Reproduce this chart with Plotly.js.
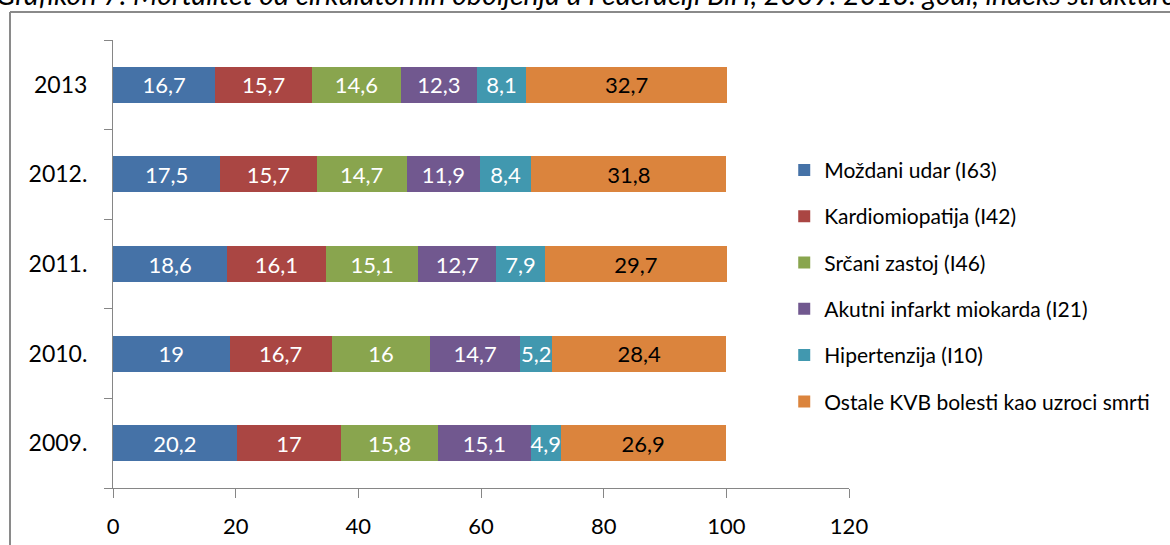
<!DOCTYPE html>
<html>
<head>
<meta charset="utf-8">
<script src="https://cdn.plot.ly/plotly-3.0.1.min.js"></script>
<style>
html,body{margin:0;padding:0;background:#fff;}
#chart{width:1170px;height:545px;}
</style>
</head>
<body>
<div id="chart"></div>
<script>
const years = ['2009.', '2010.', '2011.', '2012.', '2013'];
const seriesNames = [
  'Moždani udar (I63)',
  'Kardiomiopatija (I42)',
  'Srčani zastoj (I46)',
  'Akutni infarkt miokarda (I21)',
  'Hipertenzija (I10)',
  'Ostale KVB bolesti kao uzroci smrti'
];
const mozdaniUdar   = [20.2, 19, 18.6, 17.5, 16.7];
const kardiomiopatija = [17, 16.7, 16.1, 15.7, 15.7];
const srcaniZastoj  = [15.8, 16, 15.1, 14.7, 14.6];
const akutniInfarkt = [15.1, 14.7, 12.7, 11.9, 12.3];
const hipertenzija  = [4.9, 5.2, 7.9, 8.4, 8.1];
const ostale        = [26.9, 28.4, 29.7, 31.8, 32.7];
const xTicks = [0, 20, 40, 60, 80, 100, 120];
const titleText = 'Grafikon 7. Mortalitet od cirkulatornih oboljenja u Federaciji BiH, 2009. 2013. godi, indeks strukture';

const seriesValues = [mozdaniUdar, kardiomiopatija, srcaniZastoj, akutniInfarkt, hipertenzija, ostale];
const colors = ['#4572A7', '#AA4643', '#89A54E', '#71588F', '#4198AF', '#DB843D'];
const labelColors = ['#ffffff', '#ffffff', '#ffffff', '#ffffff', '#ffffff', '#000000'];
const FONT = 'Lato, "Open Sans", sans-serif';

const traces = seriesValues.map((vals, i) => ({
  type: 'bar',
  orientation: 'h',
  name: seriesNames[i],
  y: years,
  x: vals,
  text: vals.map(v => String(v).replace('.', ',')),
  textposition: 'inside',
  insidetextanchor: 'middle',
  textangle: 0,
  constraintext: 'none',
  textfont: {family: FONT, size: 22, color: labelColors[i]},
  marker: {color: colors[i], line: {width: 0}},
  legendgroup: 'g' + i,
  hoverinfo: 'none'
}));

const axisColor = '#868686';
const layout = {
  width: 1170,
  height: 545,
  margin: {l: 113, r: 321, t: 40, b: 57, pad: 0},
  paper_bgcolor: '#ffffff',
  plot_bgcolor: '#ffffff',
  font: {family: FONT, color: '#000000'},
  barmode: 'stack',
  bargap: 0.6,
  showlegend: true,
  legend: {
    x: 0.912, y: 0.755, xanchor: 'left', yanchor: 'top',
    traceorder: 'grouped',
    tracegroupgap: 16,
    itemwidth: 30,
    font: {family: FONT, size: 21, color: '#000000'},
    bgcolor: 'rgba(0,0,0,0)'
  },
  xaxis: {
    range: [0, 120],
    tickvals: xTicks,
    ticktext: xTicks.map(String),
    showgrid: false,
    zeroline: false,
    showline: true,
    linecolor: axisColor,
    linewidth: 1,
    ticks: 'outside',
    ticklen: 9,
    tickcolor: axisColor,
    tickwidth: 1,
    ticklabelstandoff: 10,
    tickfont: {family: FONT, size: 22, color: '#000000'},
    fixedrange: true
  },
  yaxis: {
    type: 'category',
    categoryorder: 'array',
    categoryarray: years,
    showgrid: false,
    zeroline: false,
    showline: true,
    linecolor: axisColor,
    linewidth: 1,
    ticks: 'outside',
    tickson: 'boundaries',
    ticklen: 8,
    tickcolor: axisColor,
    tickwidth: 1,
    ticklabelstandoff: 20,
    tickfont: {family: FONT, size: 23, color: '#000000'},
    fixedrange: true
  },
  annotations: [{
    text: '<i>' + titleText + '</i>',
    xref: 'paper', yref: 'paper',
    x: (-6 - 113) / 736, xanchor: 'left',
    y: (488 - 13) / 448, yanchor: 'bottom',
    showarrow: false,
    font: {family: FONT, size: 28.5, color: '#000000'}
  }],
  shapes: [
    {type: 'line', xref: 'paper', yref: 'paper',
     x0: (10 - 113) / 736, x1: (10 - 113) / 736, y0: (488 - 12) / 448, y1: (488 - 600) / 448,
     line: {color: '#8a8a8a', width: 2}},
    {type: 'line', xref: 'paper', yref: 'paper',
     x0: (10 - 113) / 736, x1: (1200 - 113) / 736, y0: (488 - 12) / 448, y1: (488 - 12) / 448,
     line: {color: '#8a8a8a', width: 2}}
  ]
};

Plotly.newPlot('chart', traces, layout, {displayModeBar: false, staticPlot: true});
</script>
</body>
</html>
